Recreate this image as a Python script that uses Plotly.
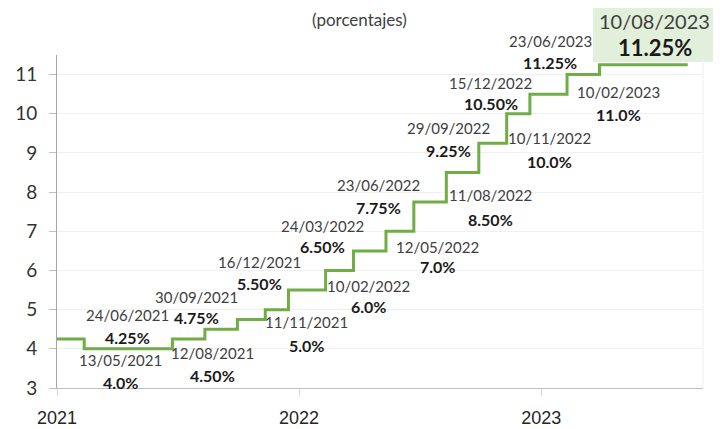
import plotly.graph_objects as go

# Step data (policy rate, %)
step_dates = ["2021-01-01", "2021-02-11", "2021-06-24", "2021-08-12", "2021-09-30",
              "2021-11-11", "2021-12-16", "2022-02-10", "2022-03-24", "2022-05-12",
              "2022-06-23", "2022-08-11", "2022-09-29", "2022-11-10", "2022-12-15",
              "2023-02-09", "2023-03-30", "2023-08-10"]
rates = [4.25, 4.0, 4.25, 4.50, 4.75, 5.0, 5.50, 6.0, 6.50, 7.0,
         7.75, 8.50, 9.25, 10.0, 10.50, 11.0, 11.25, 11.25]

# Label texts
label_dates = ["24/06/2021", "13/05/2021", "12/08/2021", "30/09/2021", "11/11/2021",
               "16/12/2021", "10/02/2022", "24/03/2022", "12/05/2022", "23/06/2022",
               "11/08/2022", "29/09/2022", "15/12/2022", "10/11/2022", "10/02/2023",
               "23/06/2023"]
label_values = ["4.25%", "4.0%", "4.50%", "4.75%", "5.0%", "5.50%", "6.0%", "6.50%",
                "7.0%", "7.75%", "8.50%", "9.25%", "10.50%", "10.0%", "11.0%", "11.25%"]
# label anchor positions (x date, y of date line, y of value line)
label_x = ["2021-04-18", "2021-04-06", "2021-08-24", "2021-07-31", "2022-01-12",
           "2021-11-03", "2022-04-16", "2022-02-05", "2022-07-28", "2022-04-30",
           "2022-10-17", "2022-08-14", "2022-10-17", "2023-01-14", "2023-04-27",
           "2023-01-15"]
label_y_date = [4.86, 3.71, 3.89, 5.32, 4.68, 6.21, 5.60, 7.13, 6.60, 8.18,
                7.92, 9.63, 10.78, 9.38, 10.55, 11.87]
label_y_val = [4.30, 3.15, 3.31, 4.79, 4.09, 5.68, 5.07, 6.60, 6.09, 7.62,
               7.31, 9.07, 10.27, 8.79, 9.99, 11.32]

last_date_text = "10/08/2023"
last_value_text = "11.25%"

Y0, Y1 = 3, 11.5
FONT = "Lato"
GREEN = "#70AD47"


def ypaper(v):
    return (v - Y0) / (Y1 - Y0)


fig = go.Figure()
fig.add_trace(go.Scatter(
    x=step_dates, y=rates, mode="lines", line=dict(shape="hv", color=GREEN, width=3),
    hoverinfo="skip", showlegend=False, cliponaxis=False))

ann = []
for xd, t, v, yd, yv in zip(label_x, label_dates, label_values, label_y_date, label_y_val):
    ann.append(dict(x=xd, y=ypaper(yd), xref="x", yref="paper", text=t, showarrow=False,
                    font=dict(family=FONT, size=15, color="#404040"),
                    xanchor="center", yanchor="middle"))
    ann.append(dict(x=xd, y=ypaper(yv), xref="x", yref="paper", text="<b>" + v + "</b>",
                    showarrow=False, font=dict(family=FONT, size=16, color="#1a1a1a"),
                    xanchor="center", yanchor="middle"))

# highlighted last value
ann.append(dict(x=(654 - 57) / 646, y=(388 - 21) / 333, xref="paper", yref="paper",
                text=last_date_text, showarrow=False,
                font=dict(family=FONT, size=20, color="#404040"),
                xanchor="center", yanchor="middle"))
ann.append(dict(x=(655 - 57) / 646, y=(388 - 47) / 333, xref="paper", yref="paper",
                text="<b>" + last_value_text + "</b>", showarrow=False,
                font=dict(family=FONT, size=22, color="#1a1a1a"),
                xanchor="center", yanchor="middle"))
# title
ann.append(dict(x=(359 - 57) / 646, y=(388 - 19) / 333, xref="paper", yref="paper",
                text="(porcentajes)", showarrow=False,
                font=dict(family=FONT, size=17, color="#404040"),
                xanchor="center", yanchor="middle"))

shapes = [
    dict(type="rect", xref="paper", yref="paper",
         x0=(593 - 57) / 646, x1=(713 - 57) / 646, y0=(388 - 62) / 333, y1=(388 - 0) / 333,
         fillcolor="#e2efda", line=dict(width=0), layer="below"),
    dict(type="line", xref="paper", yref="paper", x0=1, x1=1, y0=0, y1=1,
         line=dict(color="#f0f0f0", width=1), layer="below"),
]

# page body adds an 8px margin, so the figure is 8px smaller each way
fig.update_layout(
    width=716, height=421, autosize=False,
    margin=dict(l=49, r=21, t=47, b=41, autoexpand=False),
    paper_bgcolor="white", plot_bgcolor="white",
    annotations=ann, shapes=shapes,
    xaxis=dict(range=["2021-01-01", "2023-09-02"], tickvals=["2021-01-01", "2022-01-01", "2023-01-01"],
               ticktext=["2021", "2022", "2023"], showgrid=False, automargin=False,
               showline=True, linecolor="#bfbfbf", linewidth=1,
               ticks="outside", ticklen=7, tickcolor="#d9d9d9",
               tickfont=dict(family="Liberation Sans", size=18, color="#262626"),
               ticklabelstandoff=6, zeroline=False, fixedrange=True),
    yaxis=dict(range=[Y0, Y1], dtick=1, tick0=3, showgrid=True, gridcolor="#f0f0f0",
               showline=True, linecolor="#a6a6a6", linewidth=1, automargin=False,
               ticks="outside", ticklen=7, tickcolor="#bfbfbf",
               tickfont=dict(family=FONT, size=19, color="#333333"),
               ticklabelstandoff=8, zeroline=False, fixedrange=True),
)

fig.write_html("out.html")
